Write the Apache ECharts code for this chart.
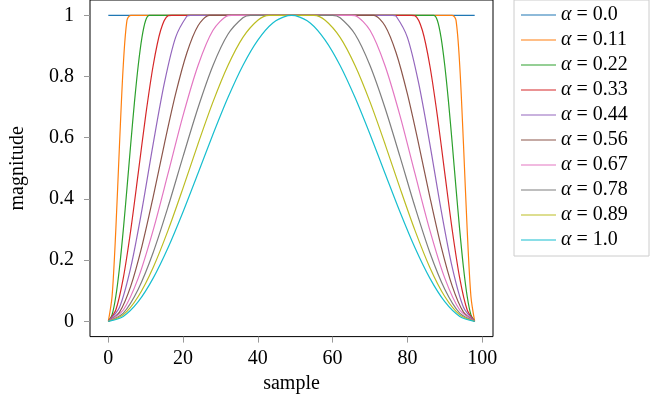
<!DOCTYPE html>
<html>
<head>
<meta charset="utf-8">
<script src="https://cdn.jsdelivr.net/npm/echarts@6/dist/echarts.min.js"></script>
<style>html,body{margin:0;padding:0;background:#fff}#c{width:650px;height:401px}</style>
</head>
<body>
<div id="c"></div>
<script>
const xTicks = [0, 20, 40, 60, 80, 100];
const yTicks = [0, 0.2, 0.4, 0.6, 0.8, 1];
const alphaLabels = ['0.0', '0.11', '0.22', '0.33', '0.44', '0.56', '0.67', '0.78', '0.89', '1.0'];

const a000 = [[0,1],[98,1]];
const a011 = [[0,0],[1,0.081],[2,0.298],[3,0.580],[4,0.836],[5,0.984],[6,1],[92,1],[93,0.984],[94,0.836],[95,0.580],[96,0.298],[97,0.081],[98,0]];
const a022 = [[0,0],[1,0.021],[2,0.081],[3,0.176],[4,0.298],[5,0.436],[6,0.580],[7,0.717],[8,0.836],[9,0.928],[10,0.984],[11,1],[87,1],[88,0.984],[89,0.928],[90,0.836],[91,0.717],[92,0.580],[93,0.436],[94,0.298],[95,0.176],[96,0.081],[97,0.021],[98,0]];
const a033 = [[0,0],[2,0.037],[4,0.141],[6,0.298],[8,0.484],[10,0.673],[12,0.836],[14,0.951],[16,0.999],[17,1],[81,1],[82,0.999],[84,0.951],[86,0.836],[88,0.673],[90,0.484],[92,0.298],[94,0.141],[96,0.037],[98,0]];
const a044 = [[0,0],[3,0.046],[6,0.176],[9,0.365],[12,0.580],[15,0.779],[18,0.928],[21,0.997],[22,1],[76,1],[77,0.997],[80,0.928],[83,0.779],[86,0.580],[89,0.365],[92,0.176],[95,0.046],[98,0]];
const a056 = [[0,0],[3,0.030],[6,0.115],[9,0.246],[12,0.407],[15,0.580],[18,0.743],[21,0.877],[24,0.966],[27,1.000],[28,1],[70,1],[71,1.000],[74,0.966],[77,0.877],[80,0.743],[83,0.580],[86,0.407],[89,0.246],[92,0.115],[95,0.030],[98,0]];
const a067 = [[0,0],[4,0.037],[8,0.141],[12,0.298],[16,0.484],[20,0.673],[24,0.836],[28,0.951],[32,0.999],[33,1],[65,1],[66,0.999],[70,0.951],[74,0.836],[78,0.673],[82,0.484],[86,0.298],[90,0.141],[94,0.037],[98,0]];
const a078 = [[0,0],[4,0.027],[8,0.105],[12,0.225],[16,0.375],[20,0.539],[24,0.698],[28,0.836],[32,0.938],[36,0.992],[38,1.000],[39,1],[59,1],[60,1.000],[62,0.992],[66,0.938],[70,0.836],[74,0.698],[78,0.539],[82,0.375],[86,0.225],[90,0.105],[94,0.027],[98,0]];
const a089 = [[0,0],[4,0.021],[8,0.081],[12,0.176],[16,0.298],[20,0.436],[24,0.580],[28,0.717],[32,0.836],[36,0.928],[40,0.984],[43,1.000],[44,1],[54,1],[55,1.000],[58,0.984],[62,0.928],[66,0.836],[70,0.717],[74,0.580],[78,0.436],[82,0.298],[86,0.176],[90,0.081],[94,0.021],[98,0]];
const a100 = [[0,0],[4,0.016],[8,0.064],[12,0.141],[16,0.241],[20,0.358],[24,0.484],[28,0.611],[32,0.731],[36,0.836],[40,0.919],[44,0.975],[48,0.999],[49,1],[50,0.999],[54,0.975],[58,0.919],[62,0.836],[66,0.731],[70,0.611],[74,0.484],[78,0.358],[82,0.241],[86,0.141],[90,0.064],[94,0.016],[98,0]];

const seriesData = [a000, a011, a022, a033, a044, a056, a067, a078, a089, a100];
const colors = ['#1f77b4','#ff7f0e','#2ca02c','#d62728','#9467bd','#8c564b','#e377c2','#7f7f7f','#bcbd22','#17becf'];

const FONT = "'Liberation Serif', 'DejaVu Serif', serif";
const chart = echarts.init(document.getElementById('c'), null, {renderer: 'canvas'});

const series = seriesData.map((d, i) => ({
  name: 'α = ' + alphaLabels[i],
  type: 'line',
  data: d,
  symbol: 'none',
  smooth: 0.3,
  lineStyle: {width: 1.2, color: colors[i]},
  itemStyle: {color: colors[i]},
  animation: false
}));

chart.setOption({
  animation: false,
  color: colors,
  grid: {left: 89, top: 0, width: 404, height: 336.6, show: true, borderColor: '#000', borderWidth: 1, backgroundColor: 'transparent'},
  xAxis: {
    type: 'value', min: -4.9, max: 102.9,
    name: 'sample', nameLocation: 'middle', nameGap: 34,
    nameTextStyle: {fontFamily: FONT, fontSize: 20, color: '#000'},
    axisLine: {show: false, onZero: false},
    axisTick: {show: true, inside: false, customValues: xTicks, length: 6, lineStyle: {color: '#999'}},
    axisLabel: {customValues: xTicks, fontFamily: FONT, fontSize: 20, color: '#000', margin: 12},
    splitLine: {show: false}
  },
  yAxis: {
    type: 'value', min: -0.05, max: 1.05,
    name: 'magnitude', nameLocation: 'middle', nameGap: 62, nameRotate: 90,
    nameTextStyle: {fontFamily: FONT, fontSize: 20, color: '#000'},
    axisLine: {show: false, onZero: false},
    axisTick: {show: true, inside: false, customValues: yTicks, length: 6, lineStyle: {color: '#999'}},
    axisLabel: {customValues: yTicks, fontFamily: FONT, fontSize: 20, color: '#000', margin: 16,
      formatter: v => String(Math.round(v * 10) / 10)},
    splitLine: {show: false}
  },
  legend: {
    orient: 'vertical', left: 514, top: 0,
    padding: [5, 8, 6, 7],
    icon: 'rect',
    itemWidth: 35, itemHeight: 1, itemGap: 5,
    borderColor: '#ccc', borderWidth: 1,
    data: series.map(s => s.name),
    formatter: name => '{i|α} = ' + name.split('= ')[1],
    textStyle: {fontFamily: FONT, fontSize: 20, color: '#000', lineHeight: 20, width: 80,
      rich: {i: {fontFamily: FONT, fontStyle: 'italic', fontSize: 20, lineHeight: 20}}}
  },
  series: series
});
</script>
</body>
</html>
